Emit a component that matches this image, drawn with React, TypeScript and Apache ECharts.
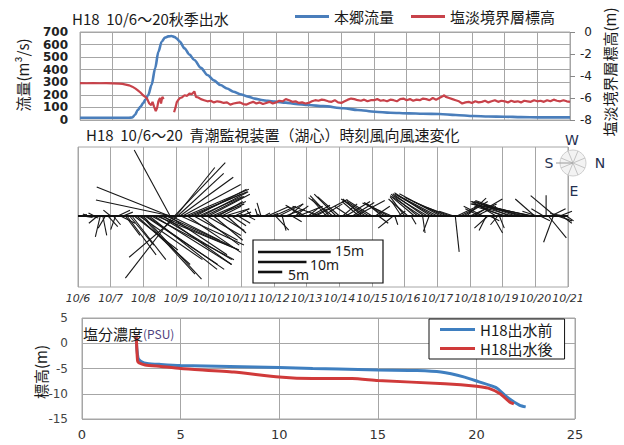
import React, { useEffect, useRef } from 'react';
import * as echarts from 'echarts';

const dayLabels = ['10/6','10/7','10/8','10/9','10/10','10/11','10/12','10/13','10/14','10/15','10/16','10/17','10/18','10/19','10/20','10/21'];

const flowDays = [0, 0.5, 1.0, 1.5, 1.6, 1.68, 1.77, 1.85, 1.93, 2.0, 2.09, 2.19, 2.3, 2.4, 2.5, 2.6, 2.7, 2.8, 2.9, 2.95, 3.05, 3.2, 3.35, 3.5, 3.7, 3.9, 4.1, 4.3, 4.5, 4.7, 4.9, 5.15, 5.35, 5.56, 5.75, 5.97, 6.3, 6.6, 7.0, 7.45, 8.07, 8.5, 9.03, 9.5, 10.06, 10.5, 11.0, 11.5, 12.05, 12.5, 13.0, 13.5, 14.05, 15];
const flowValues = [18, 18, 18, 18, 20, 40, 80, 105, 133, 160, 199, 278, 411, 543, 623, 655, 665, 668, 660, 650, 625, 570, 520, 477, 415, 358, 315, 278, 250, 225, 205, 186, 170, 159, 152, 146, 138, 128, 119, 110, 93, 80, 66, 58, 53, 50, 48, 40, 32, 28, 26, 23, 21, 21];

const boundaryDays = [0, 0.2, 0.4, 0.6, 0.8, 1.0, 1.2, 1.3, 1.4, 1.5, 1.6, 1.7, 1.77, 1.85, 1.93, 2.0, 2.05, 2.12, 2.18, 2.22, 2.27, 2.32, 2.36, 2.4, 2.45, 2.48, 2.52, 2.56, 2.7, 2.88, 2.92, 2.96, 3.0, 3.06, 3.12, 3.2, 3.28, 3.35, 3.42, 3.5, 3.55, 3.62, 3.7, 3.8, 3.9, 4.0, 4.1, 4.2, 4.3, 4.4, 4.5, 4.6, 4.7, 4.8, 4.9, 5.0, 5.1, 5.2, 5.3, 5.4, 5.5, 5.6, 5.7, 5.8, 5.9, 6.0, 6.1, 6.2, 6.3, 6.4, 6.5, 6.6, 6.7, 6.8, 6.9, 7.0, 7.1, 7.2, 7.3, 7.4, 7.5, 7.6, 7.7, 7.8, 7.9, 8.0, 8.1, 8.2, 8.3, 8.4, 8.5, 8.6, 8.7, 8.8, 8.9, 9.0, 9.1, 9.2, 9.3, 9.4, 9.5, 9.6, 9.7, 9.8, 9.9, 10.0, 10.1, 10.2, 10.3, 10.4, 10.5, 10.6, 10.7, 10.8, 10.9, 11.0, 11.1, 11.15, 11.2, 11.3, 11.4, 11.5, 11.6, 11.7, 11.8, 11.9, 12.0, 12.1, 12.2, 12.3, 12.4, 12.5, 12.6, 12.7, 12.8, 12.9, 13.0, 13.1, 13.2, 13.3, 13.4, 13.5, 13.6, 13.7, 13.8, 13.9, 14.0, 14.1, 14.2, 14.3, 14.4, 14.5, 14.6, 14.7, 14.8, 14.9, 15.0];
const boundaryValues: (number | null)[] = [-4.65, -4.66, -4.64, -4.66, -4.65, -4.67, -4.7, -4.72, -4.78, -4.85, -4.97, -5.15, -5.3, -5.5, -5.75, -5.9, -6.05, -6.5, -6.65, -6.35, -6.8, -7.2, -6.9, -6.3, -6.0, -6.5, -5.9, -6.1, null, -7.3, -6.9, -6.4, -6.2, -6.0, -5.95, -5.75, -5.8, -5.6, -5.65, -5.4, -5.9, -5.95, -6.1, -6.2, -6.3, -6.25, -6.4, -6.3, -6.35, -6.45, -6.4, -6.6, -6.5, -6.45, -6.4, -6.55, -6.6, -6.45, -6.35, -6.5, -6.4, -6.55, -6.45, -6.35, -6.5, -6.4, -6.25, -6.3, -6.1, -6.2, -6.35, -6.3, -6.45, -6.4, -6.5, -6.45, -6.3, -6.2, -6.25, -6.15, -6.2, -6.3, -6.35, -6.2, -6.4, -6.45, -6.3, -6.15, -6.05, -6.1, -6.2, -6.25, -6.15, -6.3, -6.2, -6.2, -6.1, -6.25, -6.2, -6.3, -6.15, -6.2, -6.3, -6.1, -6.05, -6.2, -6.1, -6.25, -6.15, -6.2, -6.05, -6.1, -6.2, -6.0, -6.15, -6.0, -5.85, -5.75, -5.9, -6.0, -6.1, -6.2, -6.3, -6.5, -6.4, -6.35, -6.45, -6.3, -6.4, -6.35, -6.25, -6.4, -6.3, -6.2, -6.35, -6.25, -6.3, -6.4, -6.25, -6.35, -6.3, -6.4, -6.25, -6.3, -6.35, -6.2, -6.3, -6.25, -6.35, -6.2, -6.3, -6.15, -6.25, -6.3, -6.2, -6.3, -6.35];

// wind sticks: [day, component to the right (m), component upward (m)]
const windSticks: number[][] = [
  [0.05, 1.5, 0.3], [0.15, 2, -0.3], [0.3, -1, 0.4], [0.4, 1.5, -0.4], [0.5, -1.2, 0.6], [0.6, -1.8, -1.5], [0.68, -1, -4.3], [0.76, 0.8, -4], [0.84, -1.5, -2.5], [0.92, 2, -2.2], [1.0, -1.5, 1.2], [1.08, 1.5, -1.8], [1.15, -1, -2.8], [1.22, 2.5, 1.2], [1.3, 3, -1.5], [1.38, 2, 0.8],
  [1.45, 3, -4], [1.5, 6, -8], [1.58, 5, -6], [1.65, 7, -9], [1.72, 9, -7], [1.8, 11, -10], [1.88, 13, -9], [1.95, 11, -12], [2.0, 12, -13], [2.05, 15, -10], [2.1, 16, -11], [2.18, 14, -11], [2.25, 17, -9], [2.33, 16, -10], [2.4, 17, -7], [2.48, 15, -9], [2.55, 16, -7], [2.62, 14, -10], [2.7, 13, -6], [2.78, 12, -8], [2.85, 10, -5],
  [2.8, -15, 6], [2.82, -7.4, 13.6], [2.85, -15.5, 3.3], [2.92, -9.9, -12.8], [3.05, -10, -8.5],
  [2.95, 10.5, 11], [3.0, 8, 10], [3.05, 9.5, 8.8], [3.12, 11, 8], [3.2, 12, 6.5], [3.3, 13, 5.5], [3.4, 12, 5], [3.5, 10, 4.5], [3.6, 10.5, 5.5], [3.7, 9, 4], [3.8, 9.5, 5], [3.9, 8, 4], [4.0, 8.5, 4.5], [4.1, 7, 3], [4.2, 6, 2.5], [4.3, 5, 3], [4.4, 4, 2], [4.5, 5, 1.5],
  [3.15, 13, -6], [3.35, 11, -7.5], [3.55, 9, -5], [3.75, 8, -6], [3.95, 7, -4], [4.15, 6, -5], [4.35, 5, -3], [4.55, 4, -3.5], [4.7, 3, -2],
  [4.8, 3, 1.5], [4.9, 2.5, -1.5], [5.0, 2, 0.8], [5.1, -1, 0.5], [5.2, 1.5, -0.8], [5.3, -0.8, 1], [5.4, 1, 0.3], [5.5, -0.5, 1.5], [5.6, -0.8, 2.7], [5.7, 1.2, 0.6], [5.8, 4.3, 1.9], [5.9, 1.5, 0.5],
  [6.0, 4.5, 2], [6.05, 2.7, -2.9], [6.15, 5, 2.5], [6.25, 0.8, -3], [6.35, 4, 1.5], [6.45, 3, 2.5], [6.55, 2, -1.2], [6.65, 2.7, 2.1], [6.75, 5, 2], [6.85, -3, 2], [6.95, -4, 2.2], [7.05, 2.5, 2], [7.12, 4, 2.2],
  [7.2, 3, 1.5], [7.28, 6.5, 3.4], [7.4, -5.6, 2], [7.5, 4, 2.5], [7.6, -3, 3.5], [7.7, -4, 4.2], [7.8, -5, 3.8], [7.9, -4.5, 4.5], [8.0, -4.5, 4], [8.1, 3, 2.5], [8.2, 5, 3], [8.3, -3, 2], [8.4, 4.5, 2.8], [8.5, 6, 3.2], [8.6, -3.5, 3], [8.7, -4, 3.5], [8.8, -5, 3.5], [8.9, -4.5, 3], [9.0, -5.2, 3.3], [9.1, 3, 2], [9.2, 2, -1.5], [9.3, -3, 2.5], [9.4, -4, 2.5], [9.5, -5, 2.8], [9.6, -6, 2.7], [9.65, -3.1, -2.5], [9.7, 0.6, -1.8], [9.8, 1.5, 1],
  [9.9, -2, 3], [10.0, -3, 4], [10.1, -4, 3.5], [10.2, 1, -1.7], [10.3, -5, 4.2], [10.4, -5.5, 4.5], [10.5, -6, 4], [10.55, 0.5, -3.5], [10.6, -6.5, 4.6], [10.7, -7, 4.2], [10.75, -1.2, -3.2], [10.8, -7.5, 4.8], [10.9, -8, 4.5], [11.0, -8, 4.2], [11.1, -8.5, 4.6], [11.2, -8, 3.8], [11.3, -7, 3], [11.4, -5, 1.8], [11.5, -3, 1],
  [11.55, 0.8, -7.4], [11.6, 4.2, 2], [11.7, 3, 1.5], [11.8, 5, 3], [11.9, 4, 3.7], [12.0, 5.5, 2.5], [12.1, 6, 3.5], [12.2, 4, 2],
  [12.3, -3, 1.5], [12.4, -4, 2], [12.5, -1.5, -3], [12.55, -2.8, -2.5], [12.6, 2, -1], [12.7, 2, -3.5], [12.8, -5, 3], [12.85, -1.5, -1.8], [12.9, 1, -2.5], [13.0, -6, 2.5], [13.1, -6.5, 2], [13.2, -7, 3], [13.3, -7.5, 2.2], [13.4, -8, 2.8], [13.5, -9, 3.2], [13.6, -10, 3], [13.7, -11, 2.5], [13.8, -12, 3], [13.88, -9, 2], [13.95, -13, 2.5], [13.98, -4, 3.5],
  [14.05, -3, 1], [14.15, 2, -1], [14.25, -2.5, 1.5], [14.33, 0, 4.3], [14.4, 3.7, -4.5], [14.48, 3, 1.5], [14.55, -2, -5.4], [14.6, -5, 4.2], [14.68, 3, -1], [14.75, 2.5, 1], [14.82, 2, -1.5], [14.9, -3, 0.5], [14.95, 1.5, -1],
];

const scaleBarMeters = [15, 10, 5];
const scaleBarLabels = ['15m', '10m', '5m'];

const beforeSalinity = [2.75, 2.78, 2.85, 3.0, 3.3, 4, 5, 7.5, 10, 11.7, 13, 15, 17, 18.2, 19.4, 20.1, 21, 21.5, 22.2, 22.5];
const beforeElevation = [1.0, -1.0, -3.0, -3.6, -4.0, -4.2, -4.4, -4.6, -4.8, -5.0, -5.1, -5.3, -5.4, -5.7, -6.7, -7.6, -8.8, -10.5, -12.3, -12.6];
const afterSalinity = [2.75, 2.78, 2.82, 2.9, 3.2, 4, 5, 7.7, 10, 11.7, 13.7, 15, 18.4, 20, 20.6, 21.2, 21.7, 21.9];
const afterElevation = [1.5, -1.0, -3.5, -3.9, -4.3, -4.6, -5.0, -5.7, -6.7, -7.0, -7.0, -7.4, -8.0, -8.5, -8.9, -10.0, -11.7, -12.0];

const FLOW_COLOR = '#4A7EBB';
const BOUNDARY_COLOR = '#C8424A';
const GRID_COLOR = '#a6a6a6';
const CJK = "'Noto Sans CJK JP', 'Noto Sans', sans-serif";
const NUM = "'DejaVu Sans', sans-serif";

function txt(x: number, y: number, text: string, font: string, opts: any = {}) {
  const align = opts.align || 'left';
  return {
    type: 'text', x, y, rotation: opts.rotation || 0, z: opts.z || 10,
    style: { text, font, fill: opts.fill || '#1a1a1a', align, textAlign: align, verticalAlign: 'middle', textVerticalAlign: 'middle' },
  };
}

export default function App() {
  const ref = useRef<HTMLDivElement>(null);
  useEffect(() => {
    if (!ref.current) return;
    const chart = echarts.init(ref.current, undefined, { renderer: 'svg' });

    const flowData = flowDays.map((d, i) => [d, flowValues[i]]);
    const boundaryData = boundaryDays.map((d, i) => [d, boundaryValues[i] === null ? '-' : boundaryValues[i]]);
    const beforeData = beforeSalinity.map((s, i) => [s, beforeElevation[i]]);
    const afterData = afterSalinity.map((s, i) => [s, afterElevation[i]]);

    const split = { show: true, lineStyle: { color: GRID_COLOR, width: 1 } };

    // compass
    const cx = 573, cy = 163, r = 13;
    const spokes: any[] = [];
    for (let k = 0; k < 8; k++) {
      const a = (k * Math.PI) / 4 + Math.PI / 8;
      spokes.push({ type: 'line', z: 21, shape: { x1: cx, y1: cy, x2: cx + r * Math.cos(a), y2: cy + r * Math.sin(a) }, style: { stroke: '#c4c4c4', lineWidth: 1 } });
    }

    const option: any = {
      animation: false,
      textStyle: { fontFamily: CJK },
      grid: [
        { left: 80, top: 32, width: 490, height: 88, show: true, borderColor: GRID_COLOR, borderWidth: 1, outerBoundsMode: 'none' },
        { left: 78, top: 147, width: 490, height: 140, show: true, borderColor: GRID_COLOR, borderWidth: 1, outerBoundsMode: 'none' },
        { left: 82, top: 318, width: 493, height: 101, show: true, borderColor: GRID_COLOR, borderWidth: 1, outerBoundsMode: 'none' },
      ],
      xAxis: [
        { gridIndex: 0, type: 'value', min: 0, max: 15, interval: 1, axisLabel: { show: false }, axisTick: { show: false }, axisLine: { show: false }, splitLine: split },
        { gridIndex: 1, type: 'value', min: 0, max: 15, interval: 1,
          axisLabel: { formatter: (v: number) => dayLabels[Math.round(v)], fontStyle: 'italic', fontSize: 11, color: '#333', margin: 6, fontFamily: NUM, showMinLabel: true, showMaxLabel: true },
          axisTick: { show: false }, axisLine: { show: false }, splitLine: split },
        { gridIndex: 2, type: 'value', min: 0, max: 25, interval: 5,
          axisLabel: { fontSize: 13, color: '#333', margin: 9, fontFamily: NUM },
          axisTick: { show: false }, axisLine: { show: false }, splitLine: split },
      ],
      yAxis: [
        { gridIndex: 0, type: 'value', min: 0, max: 700, interval: 100, position: 'left',
          axisLabel: { fontSize: 12, fontWeight: 'bold', color: '#222', margin: 12, fontFamily: NUM },
          axisTick: { show: false }, axisLine: { show: false }, splitLine: split },
        { gridIndex: 0, type: 'value', min: -8, max: 0, interval: 2, position: 'right',
          axisLabel: { fontSize: 12, color: '#222', margin: 22, align: 'right', fontFamily: NUM },
          axisTick: { show: true, length: 5, lineStyle: { color: '#888' } }, axisLine: { show: false }, splitLine: { show: false } },
        { gridIndex: 1, type: 'value', min: -14.64, max: 14.23, show: false, splitLine: { show: false } },
        { gridIndex: 2, type: 'value', min: -15, max: 5, interval: 5,
          axisLabel: { fontSize: 12, color: '#444', margin: 14, fontFamily: NUM },
          axisTick: { show: false }, axisLine: { show: false }, splitLine: split },
      ],
      legend: [
        { data: ['本郷流量', '塩淡境界層標高'], left: 295, top: 9, icon: 'rect', itemWidth: 34, itemHeight: 3, itemGap: 17,
          textStyle: { fontSize: 15, color: '#1a1a1a', fontFamily: CJK }, padding: 0 },
        { data: ['H18出水前', 'H18出水後'], orient: 'vertical', left: 429, top: 319, icon: 'rect', itemWidth: 35, itemHeight: 3, itemGap: 4,
          borderColor: '#111', borderWidth: 1, backgroundColor: '#fff', padding: [3, 12, 3, 11],
          textStyle: { fontSize: 15, color: '#1a1a1a', fontFamily: CJK } },
      ],
      series: [
        { name: '本郷流量', type: 'line', xAxisIndex: 0, yAxisIndex: 0, data: flowData, showSymbol: false, symbol: 'none',
          smooth: 0.3, smoothMonotone: 'x', itemStyle: { color: FLOW_COLOR }, lineStyle: { color: FLOW_COLOR, width: 2.6 }, z: 3 },
        { name: '塩淡境界層標高', type: 'line', xAxisIndex: 0, yAxisIndex: 1, data: boundaryData, showSymbol: false, symbol: 'none',
          connectNulls: false, itemStyle: { color: BOUNDARY_COLOR }, lineStyle: { color: BOUNDARY_COLOR, width: 2.2 }, z: 4 },
        { name: 'wind', type: 'custom', xAxisIndex: 1, yAxisIndex: 2, data: windSticks, clip: false, z: 2,
          dimensions: ['t', 'u', 'v'], encode: { x: 0, y: 1 },
          renderItem: (params: any, api: any) => {
            const t = api.value(0), u = api.value(1), v = api.value(2);
            const p0 = api.coord([t, 0]);
            const p1 = api.coord([t, 1]);
            const unit = p0[1] - p1[1];
            return { type: 'line', shape: { x1: p0[0], y1: p0[1], x2: p0[0] + u * unit, y2: p0[1] - v * unit }, style: { stroke: '#161616', lineWidth: 1.1 } };
          } },
        { name: 'baseline', type: 'line', xAxisIndex: 1, yAxisIndex: 2, data: [[0, 0], [15, 0]], symbol: 'none',
          lineStyle: { color: '#111', width: 2 }, z: 5, silent: true },
        { name: 'scale', type: 'custom', xAxisIndex: 1, yAxisIndex: 2, data: scaleBarMeters.map((m) => [m, 0]), clip: false, z: 60,
          renderItem: (params: any, api: any) => {
            const len = api.value(0);
            const unit = api.coord([0, 0])[1] - api.coord([0, 1])[1];
            const y = 252 + params.dataIndex * 10;
            return { type: 'line', shape: { x1: 258, y1: y, x2: 258 + len * unit, y2: y }, style: { stroke: '#111', lineWidth: 2.6 } };
          } },
        { name: 'H18出水前', type: 'line', xAxisIndex: 2, yAxisIndex: 3, data: beforeData, showSymbol: false, symbol: 'none',
          smooth: 0.2, itemStyle: { color: '#3F7FC0' }, lineStyle: { color: '#3F7FC0', width: 3 }, z: 3 },
        { name: 'H18出水後', type: 'line', xAxisIndex: 2, yAxisIndex: 3, data: afterData, showSymbol: false, symbol: 'none',
          smooth: 0.2, itemStyle: { color: '#D03A3A' }, lineStyle: { color: '#D03A3A', width: 3 }, z: 4 },
      ],
      graphic: [
        txt(72, 18, 'H18  10/6～20秋季出水', `15px ${CJK}`),
        txt(22, 75, '流量(m³/s)', `15px ${CJK}`, { align: 'center', rotation: Math.PI / 2 }),
        txt(609, 72, '塩淡境界層標高(m)', `15px ${CJK}`, { align: 'center', rotation: Math.PI / 2 }),
        txt(86, 134, 'H18  10/6～20  青潮監視装置（湖心）時刻風向風速変化', `15px ${CJK}`),
        { type: 'circle', z: 20, shape: { cx, cy, r }, style: { fill: '#f3f3f3', stroke: '#cfcfcf', lineWidth: 1 } },
        ...spokes,
        { type: 'line', z: 22, shape: { x1: 556, y1: cy, x2: cx, y2: cy }, style: { stroke: '#9a9a9a', lineWidth: 1 } },
        txt(572, 140, 'W', `14px ${NUM}`, { align: 'center', fill: '#243050', z: 23 }),
        txt(600, 163, 'N', `14px ${NUM}`, { align: 'center', fill: '#243050', z: 23 }),
        txt(549, 163, 'S', `14px ${NUM}`, { align: 'center', fill: '#243050', z: 23 }),
        txt(574, 191, 'E', `14px ${NUM}`, { align: 'center', fill: '#243050', z: 23 }),
        { type: 'rect', z: 50, shape: { x: 253, y: 240, width: 130, height: 43 }, style: { fill: '#fff', stroke: '#111', lineWidth: 1.2 } },
        txt(335, 250, scaleBarLabels[0], `14px 'Noto Sans', sans-serif`, { z: 61 }),
        txt(310, 264, scaleBarLabels[1], `14px 'Noto Sans', sans-serif`, { z: 61 }),
        txt(288, 274, scaleBarLabels[2], `14px 'Noto Sans', sans-serif`, { z: 61 }),
        { type: 'text', x: 83, y: 333, z: 10, style: { text: '{a|塩分濃度}{b|(PSU)}', verticalAlign: 'middle', textVerticalAlign: 'middle',
          rich: { a: { font: `15px ${CJK}`, fill: '#1a1a1a' }, b: { font: `12px ${CJK}`, fill: '#4e4380' } } } },
        txt(40, 372, '標高(m)', `15px ${CJK}`, { align: 'center', rotation: Math.PI / 2 }),
      ],
    };
    chart.setOption(option);
    return () => chart.dispose();
  }, []);
  return <div ref={ref} style={{ position: 'fixed', left: 0, top: 0, width: 624, height: 445, background: '#fff' }} />;
}
